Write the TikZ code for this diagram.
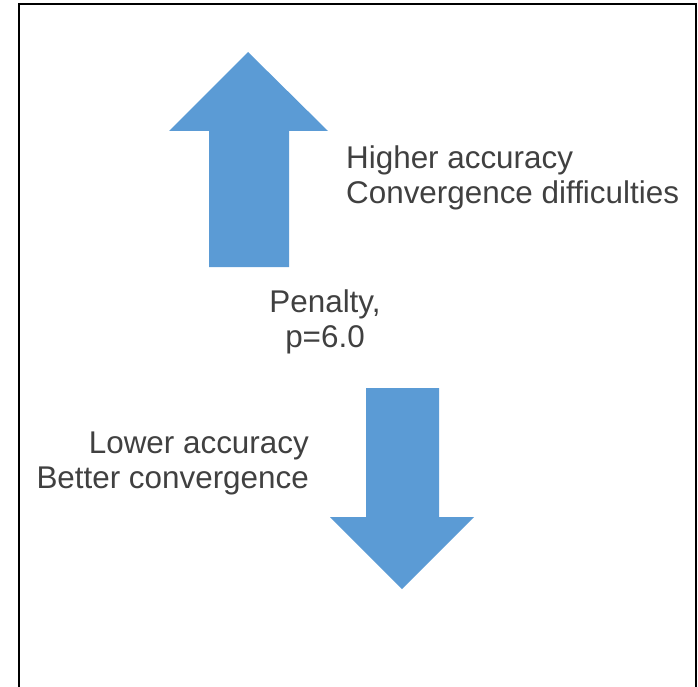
\documentclass[tikz,border=0pt]{standalone}
\usepackage{fontspec}
\setmainfont{Liberation Sans}
\definecolor{arrowblue}{HTML}{5B9BD5}
\definecolor{textgray}{HTML}{404040}
\begin{document}
\begin{tikzpicture}[x=1pt,y=1pt]
\tikzset{
  every node/.style={inner sep=0pt,text=textgray,font=\fontsize{31.4}{35.5}\selectfont},
  bigarrow/.style={fill=arrowblue,draw=none}
}
\useasboundingbox (0,0) rectangle (698,-687);
\draw [black,line width=2pt] (19,-4.5) rectangle (696,-700);
% up arrow
\fill [bigarrow] (248,-52) -- (328,-131) -- (289,-131) -- (289,-267) -- (209,-267) -- (209,-131) -- (169,-131) -- cycle;
\node (higher) [anchor=base west,align=left] at (346,-203.5) {Higher accuracy\\Convergence difficulties};
% penalty label
\node (penalty) [anchor=base,align=center] at (325,-347.5) {Penalty,\\p=6.0};
% down arrow
\fill [bigarrow] (366,-388) -- (439,-388) -- (439,-517) -- (474,-517) -- (402,-589) -- (330,-517) -- (366,-517) -- cycle;
\node (lower) [anchor=base east,align=right] at (309,-488.5) {Lower accuracy\\Better convergence};
\end{tikzpicture}
\end{document}
